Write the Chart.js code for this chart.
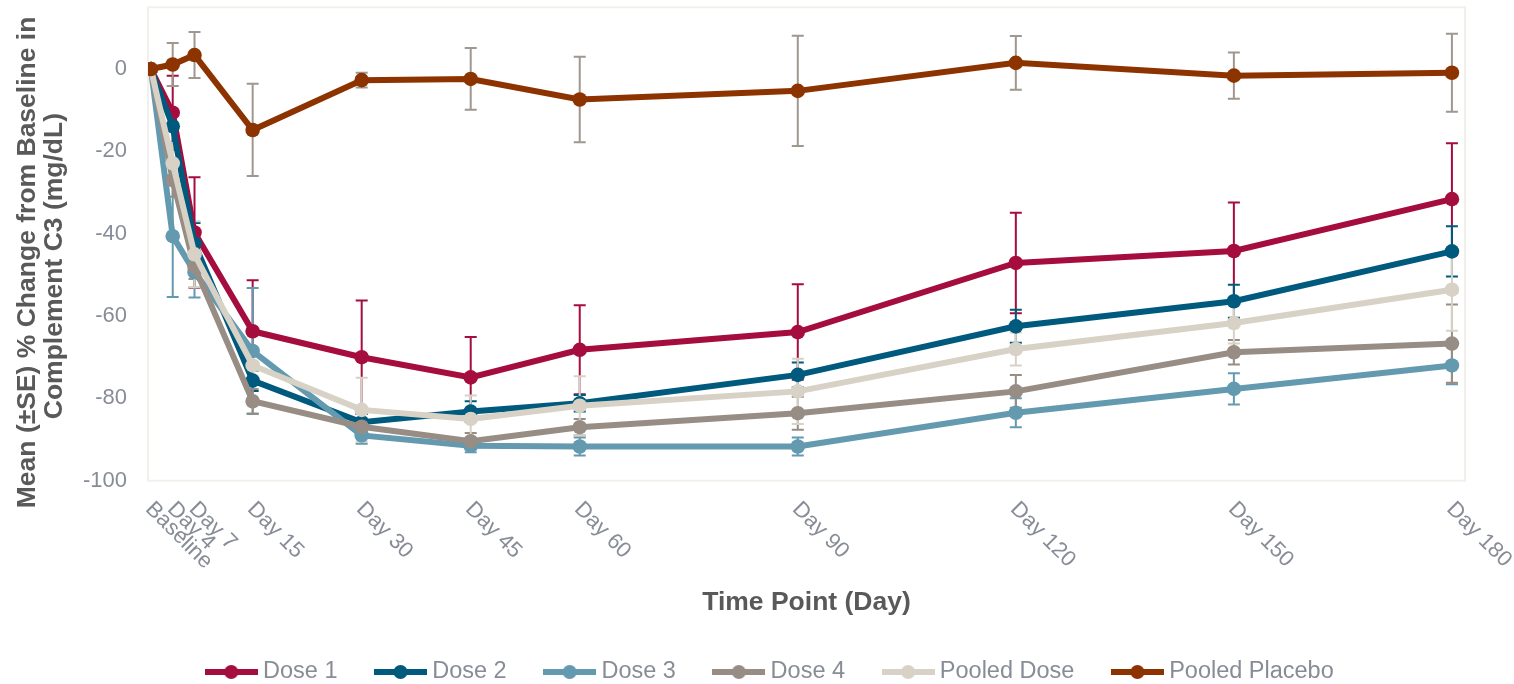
<!DOCTYPE html>
<html>
<head>
<meta charset="utf-8">
<title>C3 percent change from baseline</title>
<script src="https://cdn.jsdelivr.net/npm/chart.js@4.4.1/dist/chart.umd.min.js"></script>
<style>
  body { margin: 0; background: #fff; }
  #wrap { width: 1514px; height: 684px; }
</style>
</head>
<body>
<div id="wrap"><canvas id="c3Chart" width="1514" height="684"></canvas></div>
<script>
// study days (baseline = day 1) and their labels
var days = [1, 4, 7, 15, 30, 45, 60, 90, 120, 150, 180];
var dayLabels = ['Baseline', 'Day 4', 'Day 7', 'Day 15', 'Day 30', 'Day 45', 'Day 60', 'Day 90', 'Day 120', 'Day 150', 'Day 180'];
var yTicks = [-100, -80, -60, -40, -20, 0];

// mean % change and SE
var dose1 = [0, -10.6, -39.7, -63.7, -70.0, -74.9, -68.2, -63.9, -47.1, -44.2, -31.6];
var dose1Se = [0, 9.0, 13.4, 12.4, 13.8, 9.8, 10.8, 11.6, 12.2, 11.8, 13.6];
var dose2 = [0, -13.9, -42.4, -75.7, -85.8, -83.2, -81.2, -74.3, -62.5, -56.4, -44.3];
var dose2Se = [0, 4.0, 5.0, 2.5, 2.0, 2.5, 2.0, 3.0, 4.0, 4.0, 6.1];
var dose3 = [0, -40.6, -49.3, -68.5, -89.0, -91.5, -91.7, -91.7, -83.5, -77.7, -72.0];
var dose3Se = [0, 14.8, 6.2, 15.3, 2.0, 1.6, 2.2, 2.2, 3.5, 3.8, 4.6];
var dose4 = [0, -27.0, -48.0, -80.7, -86.9, -90.4, -87.0, -83.6, -78.3, -68.8, -66.7];
var dose4Se = [0, 4.0, 3.0, 3.0, 2.0, 2.0, 2.0, 4.0, 4.0, 3.0, 9.5];
var pooled = [0, -22.9, -45.0, -72.0, -82.8, -85.0, -81.8, -78.3, -68.0, -61.7, -53.6];
var pooledSe = [0, 5.0, 8.0, 4.0, 7.8, 5.7, 7.2, 7.9, 4.0, 5.0, 10.0];
var placebo = [0, 1.1, 3.4, -14.8, -2.7, -2.4, -7.4, -5.3, 1.5, -1.6, -0.9];
var placeboSe = [0, 5.2, 5.6, 11.2, 1.8, 7.5, 10.4, 13.4, 6.5, 5.6, 9.5];

var seriesNames = ['Dose 1', 'Dose 2', 'Dose 3', 'Dose 4', 'Pooled Dose', 'Pooled Placebo'];
var seriesVals = [dose1, dose2, dose3, dose4, pooled, placebo];
var seriesSe = [dose1Se, dose2Se, dose3Se, dose4Se, pooledSe, placeboSe];
var seriesColors = ['#A50D3E', '#005A7E', '#649AB0', '#988D84', '#D8D2C6', '#8C3300'];
var errColors = ['#A50D3E', '#005A7E', '#649AB0', '#988D84', '#D8D2C6', '#A0978F'];

var tickGrey = '#878C96';
var titleGrey = '#595959';

Chart.defaults.font.family = "'Liberation Sans', Arial, sans-serif";

// little line + dot icon for the legend
function legendLine(color) {
  var c = document.createElement('canvas');
  c.width = 53; c.height = 16;
  var g = c.getContext('2d');
  g.strokeStyle = color;
  g.lineWidth = 6;
  g.beginPath(); g.moveTo(0, 8); g.lineTo(53, 8); g.stroke();
  g.fillStyle = color;
  g.beginPath(); g.arc(26.5, 8, 7, 0, Math.PI * 2); g.fill();
  return c;
}
var legendIcons = seriesColors.map(legendLine);

var datasets = seriesNames.map(function (name, s) {
  return {
    label: name,
    data: seriesVals[s].map(function (v, i) { return {x: days[i], y: v}; }),
    borderColor: seriesColors[s],
    backgroundColor: seriesColors[s],
    borderWidth: 6,
    pointRadius: 7.3,
    pointBorderWidth: 0,
    pointStyle: 'circle',
    order: seriesNames.length - s   // later series on top
  };
});

// error bars under the lines
var errorBars = {
  id: 'errorBars',
  beforeDatasetsDraw: function (chart) {
    var ctx = chart.ctx, xs = chart.scales.x, ys = chart.scales.y;
    ctx.save();
    ctx.lineWidth = 2;
    seriesSe.forEach(function (se, s) {
      ctx.strokeStyle = errColors[s];
      se.forEach(function (e, i) {
        if (!e) return;
        var v = seriesVals[s][i];
        var x = xs.getPixelForValue(days[i]);
        var yt = ys.getPixelForValue(v + e);
        var yb = ys.getPixelForValue(v - e);
        ctx.beginPath();
        ctx.moveTo(x, yt); ctx.lineTo(x, yb);
        ctx.moveTo(x - 6, yt); ctx.lineTo(x + 6, yt);
        ctx.moveTo(x - 6, yb); ctx.lineTo(x + 6, yb);
        ctx.stroke();
      });
    });
    ctx.restore();
  }
};

// light frame round the plot area
var plotFrame = {
  id: 'plotFrame',
  beforeDatasetsDraw: function (chart) {
    var a = chart.chartArea, ctx = chart.ctx;
    ctx.save();
    ctx.strokeStyle = '#F1F0EA';
    ctx.lineWidth = 2;
    ctx.strokeRect(a.left, a.top, a.right - a.left, a.bottom - a.top);
    ctx.restore();
  }
};

// x labels turned 45 deg clockwise, starting at the tick
var dayTicks = {
  id: 'dayTicks',
  afterDraw: function (chart) {
    var ctx = chart.ctx, xs = chart.scales.x, bottom = chart.chartArea.bottom;
    ctx.save();
    ctx.font = "22px 'Liberation Sans', Arial, sans-serif";
    ctx.fillStyle = tickGrey;
    ctx.textAlign = 'left';
    ctx.textBaseline = 'middle';
    days.forEach(function (d, i) {
      ctx.save();
      ctx.translate(xs.getPixelForValue(d) - 2, bottom + 25);
      ctx.rotate(Math.PI / 4);
      ctx.fillText(dayLabels[i], 0, 0);
      ctx.restore();
    });
    ctx.restore();
  }
};

var legendNudge = {
  id: 'legendNudge',
  afterLayout: function (chart) {
    var lg = chart.legend;
    lg.left += 35; lg.right += 35;
  }
};

new Chart(document.getElementById('c3Chart'), {
  type: 'line',
  data: { datasets: datasets },
  plugins: [errorBars, plotFrame, dayTicks, legendNudge],
  options: {
    responsive: false,
    animation: false,
    devicePixelRatio: 1,
    layout: { padding: { left: 10, right: 49, top: 7, bottom: 0 } },
    plugins: {
      tooltip: { enabled: false },
      legend: {
        position: 'bottom',
        maxHeight: 66.75,
        labels: {
          usePointStyle: true,
          pointStyleWidth: 40,
          padding: 43,
          color: tickGrey,
          font: { size: 23.5 },
          generateLabels: function (chart) {
            var items = Chart.defaults.plugins.legend.labels.generateLabels(chart);
            items.forEach(function (it) { it.pointStyle = legendIcons[it.datasetIndex]; });
            return items;
          },
          sort: function (a, b) { return a.datasetIndex - b.datasetIndex; }
        }
      }
    },
    scales: {
      x: {
        type: 'linear',
        min: 0.6,
        max: 181.8,
        grid: { display: false, drawTicks: false },
        border: { display: false },
        ticks: { display: false },
        title: {
          display: true,
          text: 'Time Point (Day)',
          color: titleGrey,
          font: { size: 26.5, weight: 'bold', lineHeight: 1.1 },
          padding: { top: 107.4, bottom: 0 }
        }
      },
      y: {
        min: -100,
        max: 15,
        afterBuildTicks: function (scale) {
          scale.ticks = yTicks.map(function (v) { return {value: v}; });
        },
        afterFit: function (scale) {
          scale.width = 138;
          scale.paddingTop = 0;
          scale.paddingBottom = 0;
        },
        grid: { display: false, drawTicks: false },
        border: { display: false },
        ticks: { color: tickGrey, font: { size: 22 }, padding: 21 },
        title: {
          display: true,
          // trailing spaces push the lines a little lower, as in the original
          text: ['Mean (\u00b1SE) % Change from Baseline in     ', 'Complement C3 (mg/dL)      '],
          color: titleGrey,
          font: { size: 26.5, weight: 'bold', lineHeight: 1.02 },
          padding: { top: 4, bottom: 15 }
        }
      }
    }
  }
});
</script>
</body>
</html>
